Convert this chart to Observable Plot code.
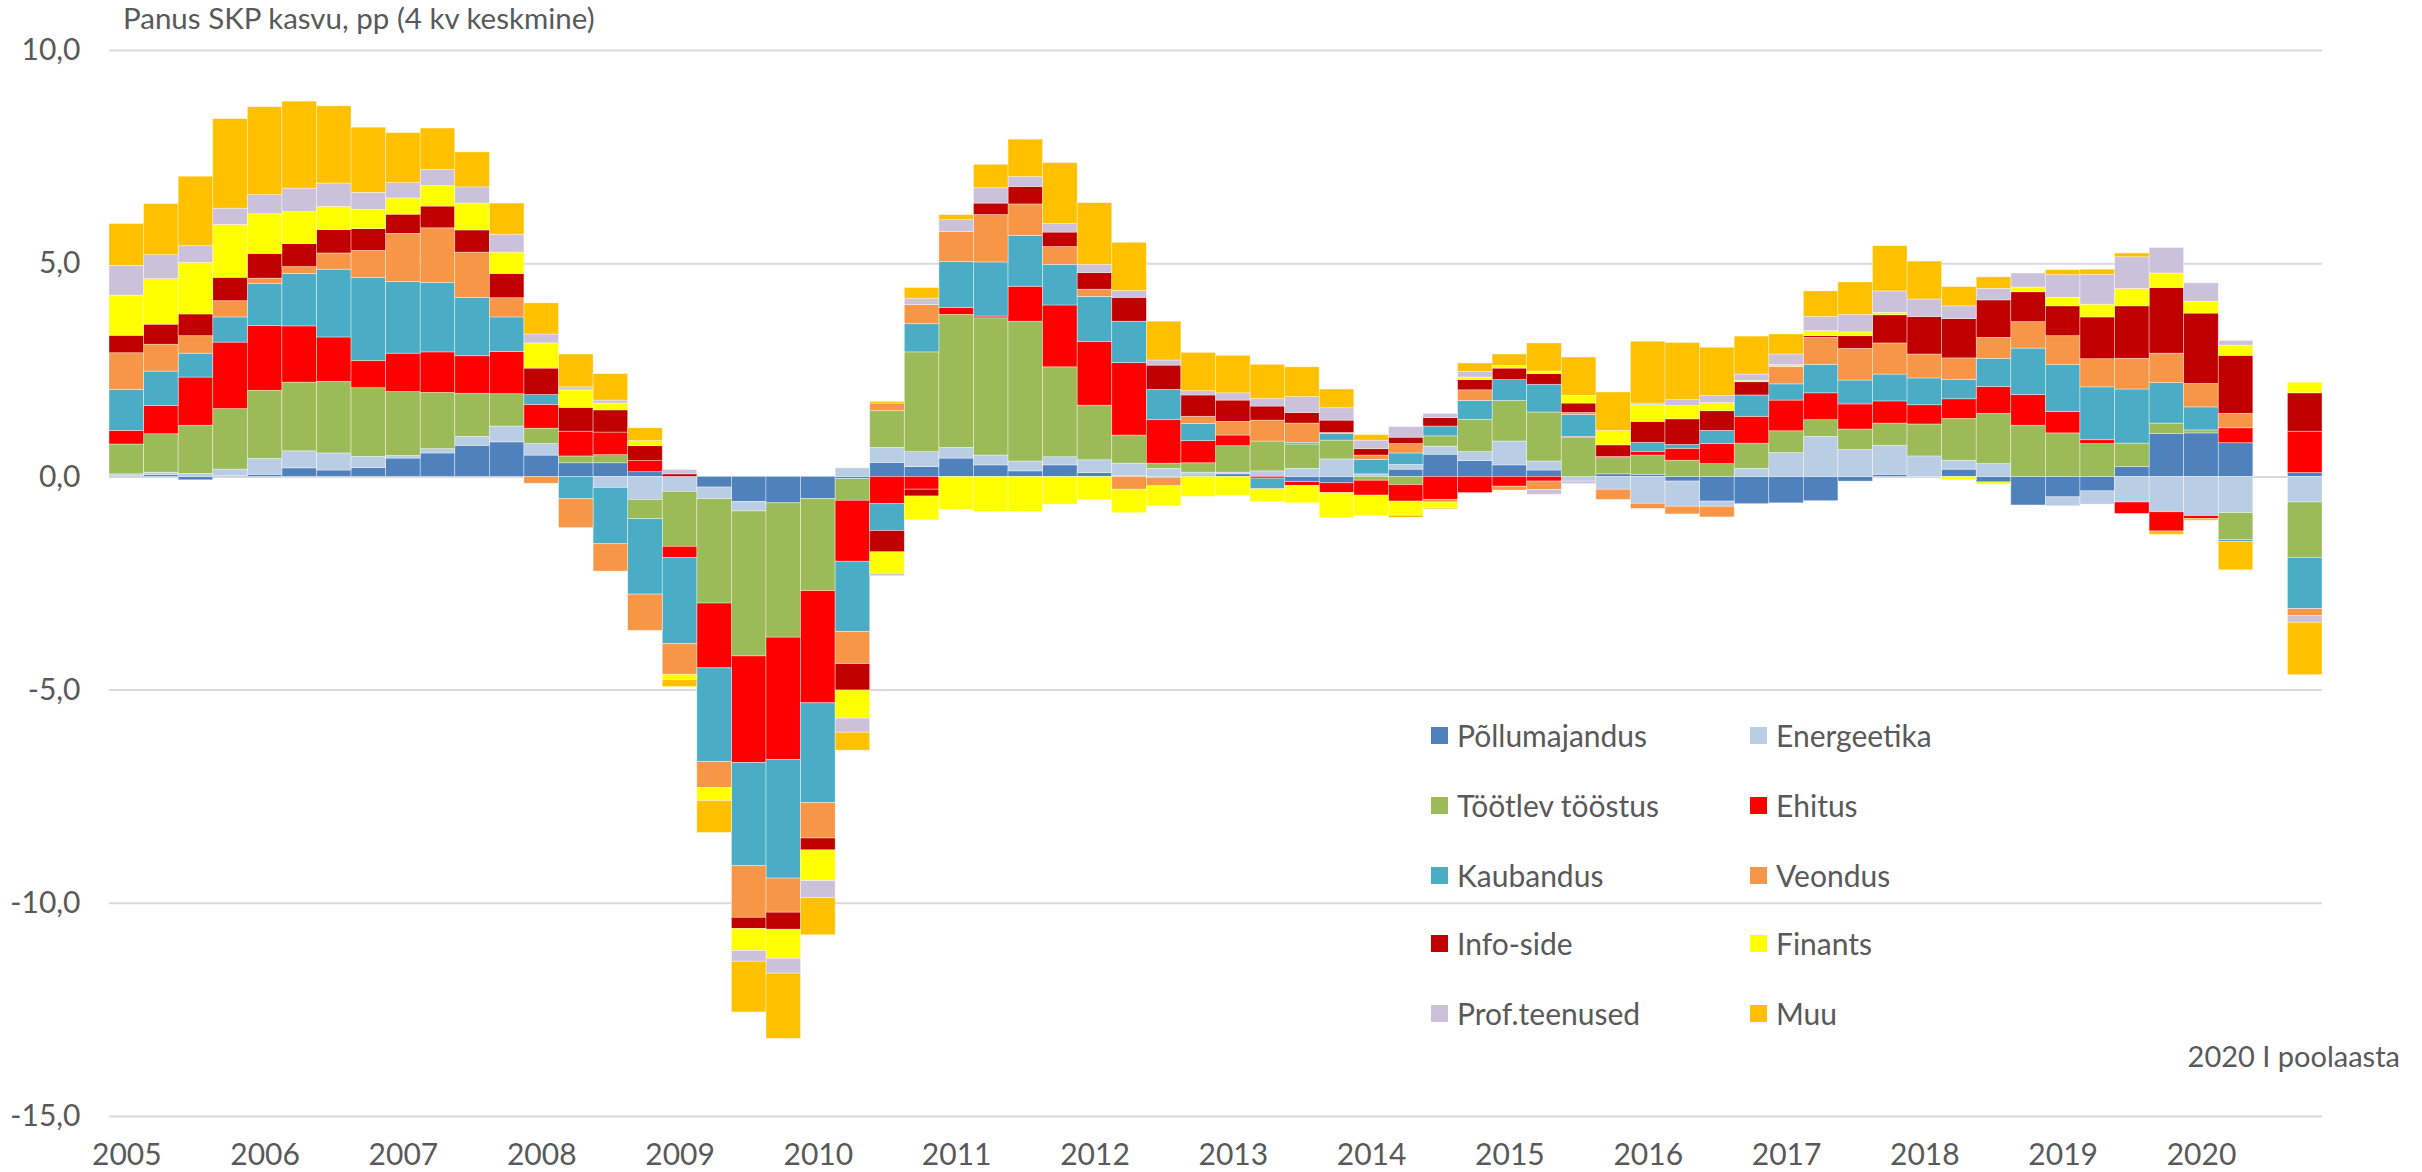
<!DOCTYPE html>
<html>
<head>
<meta charset="utf-8">
<script src="https://cdn.jsdelivr.net/npm/d3@7"></script>
<script src="https://cdn.jsdelivr.net/npm/@observablehq/plot@0.6"></script>
<style>
  html, body { margin: 0; padding: 0; background: #fff; }
  #wrap { position: relative; width: 2422px; height: 1172px; font-family: Lato, "Open Sans", sans-serif; color: #595959; }
  #chart { position: absolute; left: 0; top: 0; }
  .ovl { position: absolute; white-space: nowrap; line-height: 1; }
  #title { left: 123px; top: 3px; font-size: 29.5px; }
  #note { right: 22px; top: 1041px; font-size: 29px; }
  .leg { position: absolute; white-space: nowrap; line-height: 1; font-size: 30px; display: flex; align-items: center; }
  .leg .sw { display: inline-block; width: 17px; height: 17px; margin-right: 9px; }
</style>
</head>
<body>
<div id="wrap">
  <div id="chart"></div>
  <div id="title" class="ovl">Panus SKP kasvu, pp (4 kv keskmine)</div>
  <div id="note" class="ovl">2020 I poolaasta</div>
  <div id="legend"></div>
</div>
<script>
// ---------- data ----------
const seriesNames = ["Põllumajandus", "Energeetika", "Töötlev tööstus", "Ehitus", "Kaubandus",
                     "Veondus", "Info-side", "Finants", "Prof.teenused", "Muu"];
const seriesColors = ["#4F81BD", "#B9CDE5", "#9BBB59", "#FF0000", "#4BACC6",
                      "#F79646", "#C00000", "#FFFF00", "#CCC1DA", "#FFC000"];
const years = [2005, 2006, 2007, 2008, 2009, 2010, 2011, 2012, 2013, 2014, 2015, 2016, 2017, 2018, 2019, 2020];
const quarterNames = ["I kv", "II kv", "III kv", "IV kv"];
const halfYearLabel = "2020 I poolaasta";
const gapLabel = "";
const yTicks = [-15, -10, -5, 0, 5, 10];

// 62 quarters (2005 I kv ... 2020 II kv) followed by the 2020 I half-year value
const pollumajandus = [0.02,0.04,-0.08,0.02,0.05,0.20,0.15,0.21,0.43,0.55,0.73,0.81,0.50,0.32,0.32,0.11,0,-0.25,-0.59,-0.62,-0.52,-0.05,0.33,0.23,0.43,0.27,0.13,0.27,0.09,0.02,-0.03,0.03,0.06,0,-0.12,-0.15,0,0.17,0.52,0.37,0.27,0.15,0,0.06,0.05,-0.11,-0.58,-0.64,-0.62,-0.57,-0.11,0.05,0,0.17,-0.13,-0.67,-0.48,-0.34,0.23,1.01,1.02,0.79, 0.09];
const energeetika = [0.04,0.06,0.07,0.15,0.37,0.40,0.40,0.26,0.06,0.10,0.21,0.37,0.27,0,-0.26,-0.54,-0.35,-0.27,-0.22,0,0,0.20,0.35,0.35,0.25,0.23,0.23,0.19,0.30,0.29,0.19,0.07,0.04,0.13,0.19,0.41,0.06,0.11,0.19,0.21,0.56,0.21,-0.11,-0.30,-0.63,-0.59,-0.12,0.19,0.56,0.94,0.63,0.68,0.48,0.21,0.30,0,-0.21,-0.31,-0.60,-0.83,-0.92,-0.85, -0.60];
const tootlev = [0.70,0.90,1.13,1.42,1.60,1.61,1.68,1.61,1.50,1.32,1.01,0.76,0.36,0.16,0.19,-0.45,-1.29,-2.45,-3.40,-3.15,-2.16,-0.51,0.86,2.34,3.12,3.22,3.28,2.11,1.28,0.66,0.12,0.22,0.62,0.70,0.57,0.44,-0.09,-0.19,0.24,0.76,0.95,1.15,0.92,0.38,0.45,0.38,0.30,0.59,0.51,0.39,0.48,0.52,0.75,0.98,1.18,1.20,1.02,0.77,0.55,0.24,0.07,-0.63, -1.30];
const ehitus = [0.32,0.66,1.13,1.56,1.52,1.32,1.04,0.64,0.90,0.95,0.88,0.99,0.56,0.58,0.53,0.26,-0.26,-1.52,-2.50,-2.87,-2.63,-1.43,-0.64,-0.30,0.16,0.04,0.82,1.45,1.49,1.70,1.02,0.52,0.25,-0.04,-0.09,-0.23,-0.35,-0.39,-0.54,-0.38,-0.23,-0.11,0.02,0.03,0.09,0.28,0.47,0.63,0.72,0.63,0.59,0.52,0.45,0.46,0.63,0.72,0.50,0.09,-0.27,-0.45,-0.07,0.35, 0.97];
const kaubandus = [0.96,0.81,0.56,0.59,0.98,1.23,1.59,1.95,1.68,1.63,1.37,0.81,0.23,-0.52,-1.32,-1.77,-2.02,-2.20,-2.42,-2.78,-2.34,-1.65,-0.63,0.66,1.08,1.27,1.19,0.95,1.06,0.97,0.71,0.40,0,-0.25,0.04,0.16,0.34,0.27,0.23,0.44,0.49,0.65,0.51,0,0.21,0.09,0.31,0.50,0.38,0.67,0.56,0.63,0.63,0.45,0.66,1.09,1.10,1.24,1.27,0.95,0.54,-0.05, -1.20];
const veondus = [0.86,0.63,0.41,0.38,0.13,0.16,0.38,0.63,1.13,1.28,1.06,0.45,-0.16,-0.68,-0.64,-0.85,-0.72,-0.61,-1.21,-0.80,-0.83,-0.75,0.18,0.45,0.70,1.11,0.74,0.42,0.17,-0.30,-0.19,0.17,0.32,0.49,0.45,0.02,0.10,0.22,-0.06,0.25,-0.09,-0.20,0.05,-0.24,-0.12,-0.18,-0.25,0,0.41,0.63,0.74,0.73,0.56,0.51,0.49,0.62,0.68,0.66,0.72,0.69,0.55,0.34, -0.16];
const infoside = [0.41,0.47,0.51,0.55,0.58,0.54,0.55,0.51,0.45,0.51,0.52,0.57,0.62,0.56,0.52,0.35,0.06,0,-0.26,-0.40,-0.28,-0.62,-0.50,-0.16,0,0.27,0.41,0.34,0.39,0.56,0.57,0.50,0.50,0.33,0.25,0.29,0.15,0.15,0.20,0.24,0.27,0.25,0.22,0.27,0.49,0.60,0.46,0.31,0,0.04,0.30,0.66,0.88,0.92,0.88,0.70,0.70,0.98,1.23,1.54,1.65,1.36, 0.90];
const finants = [0.94,1.07,1.21,1.24,0.93,0.75,0.54,0.45,0.38,0.48,0.63,0.50,0.59,0.41,0.16,0.12,-0.12,-0.30,-0.52,-0.68,-0.72,-0.66,-0.50,-0.56,-0.77,-0.82,-0.82,-0.65,-0.55,-0.55,-0.47,-0.47,-0.44,-0.30,-0.41,-0.59,-0.48,-0.33,-0.13,0.06,0.06,0.06,0.18,0.34,0.39,0.31,0.19,0.03,0.04,0.12,0.09,0.06,0,-0.08,-0.05,0.11,0.20,0.30,0.41,0.34,0.28,0.24, 0.25];
const profteenused = [0.70,0.56,0.39,0.38,0.45,0.55,0.55,0.40,0.36,0.38,0.38,0.42,0.21,0.07,0.07,0,0.10,0,-0.25,-0.35,-0.40,-0.33,-0.06,0.15,0.28,0.36,0.23,0.20,0.19,0.16,0.12,0.10,0.17,0.18,0.37,0.29,0.20,0.25,0.10,0.13,0,-0.11,-0.06,0,0.04,0.14,0.17,0.15,0.25,0.33,0.41,0.50,0.41,0.30,0.27,0.33,0.53,0.70,0.74,0.60,0.43,0.11, -0.16];
const muu = [0.98,1.20,1.63,2.10,2.06,2.04,1.81,1.53,1.17,0.97,0.82,0.73,0.73,0.77,0.62,0.30,-0.17,-0.75,-1.19,-1.53,-0.87,-0.42,0.04,0.25,0.12,0.55,0.88,1.43,1.45,1.13,0.91,0.90,0.88,0.80,0.70,0.44,0.13,-0.05,-0.03,0.20,0.27,0.66,0.90,0.90,1.45,1.34,1.13,0.89,0.47,0.60,0.76,1.06,0.89,0.45,0.27,0,0.12,0.12,0.09,-0.08,-0.04,-0.66, -1.23];

const seriesValues = [pollumajandus, energeetika, tootlev, ehitus, kaubandus, veondus, infoside, finants, profteenused, muu];

// ---------- categories ----------
const quarterCats = [];
for (const y of years) for (const q of quarterNames) quarterCats.push(`${y} ${q}`);
quarterCats.length = 62; // 2005 I kv ... 2020 II kv
const barCats = [...quarterCats, halfYearLabel];
const xDomain = [...quarterCats, gapLabel, halfYearLabel];
const yearTickCats = years.map(y => `${y} I kv`);

const rows = [];
seriesNames.forEach((s, k) => {
  seriesValues[k].forEach((v, j) => rows.push({cat: barCats[j], series: s, value: v}));
});

const fmtY = d => (d < 0 ? "-" : "") + Math.abs(d).toFixed(1).replace(".", ",");

const chart = Plot.plot({
  width: 2422,
  height: 1172,
  marginLeft: 109,
  marginRight: 100,
  marginTop: 50,
  marginBottom: 56,
  style: {fontFamily: "Lato, 'Open Sans', sans-serif", fontSize: "30px", color: "#595959", background: "white", overflow: "visible"},
  x: {type: "band", domain: xDomain, padding: 0, axis: null},
  y: {domain: [-15, 10], axis: null},
  color: {domain: seriesNames, range: seriesColors},
  marks: [
    Plot.gridY({ticks: yTicks, stroke: "#d9d9d9", strokeOpacity: 1, strokeWidth: 2}),
    Plot.barY(rows, {x: "cat", y: "value", fill: "series", stroke: "white", strokeWidth: 0.7, strokeOpacity: 0.55}),
    Plot.axisY({ticks: yTicks, tickFormat: fmtY, tickSize: 0, tickPadding: 29, label: null, fill: "#595959"}),
    Plot.axisX({ticks: yearTickCats, tickFormat: c => c.slice(0, 4), tickSize: 0, tickPadding: 27, label: null, fill: "#595959"})
  ]
});
document.getElementById("chart").appendChild(chart);

// ---------- legend (inside plot area, two columns) ----------
const legend = document.getElementById("legend");
const legCols = [1431, 1750];
const legRows = [735, 805, 875, 943, 1013];
seriesNames.forEach((s, k) => {
  const d = document.createElement("div");
  d.className = "leg";
  d.style.left = legCols[k % 2] + "px";
  d.style.top = (legRows[Math.floor(k / 2)] - 16) + "px";
  d.style.height = "32px";
  const sw = document.createElement("span");
  sw.className = "sw";
  sw.style.background = seriesColors[k];
  d.appendChild(sw);
  d.appendChild(document.createTextNode(s));
  legend.appendChild(d);
});
</script>
</body>
</html>
